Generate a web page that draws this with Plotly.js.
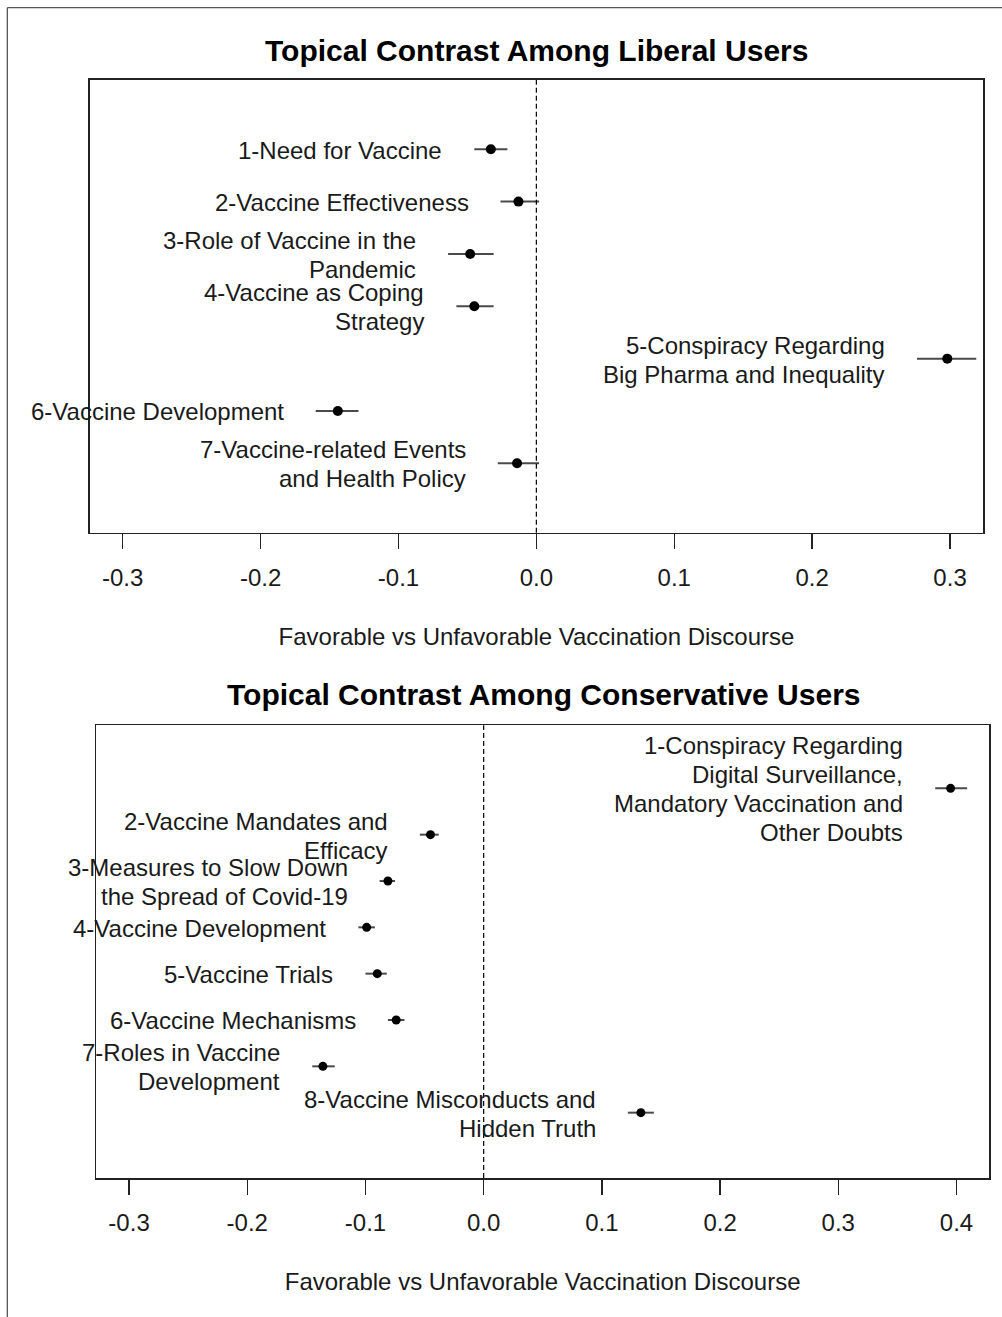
<!DOCTYPE html>
<html>
<head>
<meta charset="utf-8">
<script src="https://cdn.plot.ly/plotly-3.0.1.min.js"></script>
<style>
html,body{margin:0;padding:0;background:#fff;}
#chart{width:1002px;height:1317px;}
</style>
</head>
<body>
<div id="chart"></div>
<script>
// ---- Data: Liberal users ----
const libLabels = [
  "1-Need for Vaccine",
  "2-Vaccine Effectiveness",
  "3-Role of Vaccine in the|Pandemic",
  "4-Vaccine as Coping|Strategy",
  "5-Conspiracy Regarding|Big Pharma and Inequality",
  "6-Vaccine Development",
  "7-Vaccine-related Events|and Health Policy"
];
const libEst = [-0.033, -0.013, -0.048, -0.045, 0.298, -0.144, -0.014];
const libLo  = [-0.045, -0.026, -0.064, -0.058, 0.276, -0.160, -0.028];
const libHi  = [-0.021,  0.002, -0.031, -0.031, 0.319, -0.129,  0.002];

// ---- Data: Conservative users ----
const consLabels = [
  "1-Conspiracy Regarding|Digital Surveillance,|Mandatory Vaccination and|Other Doubts",
  "2-Vaccine Mandates and|Efficacy",
  "3-Measures to Slow Down|the Spread of Covid-19",
  "4-Vaccine Development",
  "5-Vaccine Trials",
  "6-Vaccine Mechanisms",
  "7-Roles in Vaccine|Development",
  "8-Vaccine Misconducts and|Hidden Truth"
];
const consEst = [0.395, -0.045, -0.081, -0.099, -0.090, -0.074, -0.136, 0.133];
const consLo  = [0.382, -0.054, -0.088, -0.106, -0.100, -0.081, -0.145, 0.122];
const consHi  = [0.409, -0.038, -0.075, -0.092, -0.082, -0.067, -0.126, 0.144];

// ---- Tick labels ----
const libTicks  = [-0.3, -0.2, -0.1, 0.0, 0.1, 0.2, 0.3];
const libTickText  = ["-0.3", "-0.2", "-0.1", "0.0", "0.1", "0.2", "0.3"];
const consTicks = [-0.3, -0.2, -0.1, 0.0, 0.1, 0.2, 0.3, 0.4];
const consTickText = ["-0.3", "-0.2", "-0.1", "0.0", "0.1", "0.2", "0.3", "0.4"];

const titleTop = "Topical Contrast Among Liberal Users";
const titleBottom = "Topical Contrast Among Conservative Users";
const xTitle = "Favorable vs Unfavorable Vaccination Discourse";

const FONT = "Liberation Sans, Arial, sans-serif";
const TXT = "#1a1a1a";
const LINE_H = 29;

const idx = a => a.map((_, i) => i + 1);

function trace(est, lo, hi, xa, ya, msize) {
  return {
    type: "scatter", mode: "markers",
    x: est, y: idx(est), xaxis: xa, yaxis: ya,
    marker: {color: "#000", size: msize},
    error_x: {
      type: "data", symmetric: false,
      array: hi.map((h, i) => h - est[i]),
      arrayminus: lo.map((l, i) => est[i] - l),
      color: "#4a4a4a", thickness: 2, width: 0
    },
    hoverinfo: "skip", showlegend: false, cliponaxis: false
  };
}

const data = [
  trace(libEst, libLo, libHi, "x", "y", 10),
  trace(consEst, consLo, consHi, "x2", "y2", 9)
];

const annotations = [];
function addLabels(labels, lo, xr, yr) {
  labels.forEach((t, i) => {
    const lines = t.split("|");
    const k = lines.length;
    lines.forEach((ln, j) => {
      annotations.push({
        text: ln, x: lo[i], y: i + 1, xref: xr, yref: yr,
        xanchor: "right", yanchor: "middle", align: "right",
        xshift: -30, yshift: ((k - 1) / 2 - j) * LINE_H - 1,
        showarrow: false,
        font: {family: FONT, size: 24, color: TXT}
      });
    });
  });
}
addLabels(libLabels, libLo, "x", "y");
addLabels(consLabels, consLo, "x2", "y2");

annotations.push({
  text: "<b>" + titleTop + "</b>", xref: "paper", yref: "paper",
  x: 0.5355, y: 0.9620, xanchor: "center", yanchor: "middle", showarrow: false,
  font: {family: FONT, size: 30, color: "#000"}
});
annotations.push({
  text: "<b>" + titleBottom + "</b>", xref: "paper", yref: "paper",
  x: 0.5429, y: 0.4723, xanchor: "center", yanchor: "middle", showarrow: false,
  font: {family: FONT, size: 30, color: "#000"}
});

function xaxis(domain, range, tv, tt, anchor) {
  return {
    domain: domain, range: range, anchor: anchor,
    tickmode: "array", tickvals: tv, ticktext: tt,
    ticks: "outside", ticklen: 15, tickwidth: 1.3, tickcolor: "#222",
    ticklabelstandoff: 8,
    showline: true, linecolor: "#222", linewidth: 1.5, mirror: true,
    showgrid: false, zeroline: false,
    tickfont: {family: FONT, size: 24, color: TXT},
    title: {text: xTitle, font: {family: FONT, size: 24, color: TXT}, standoff: 38}
  };
}
function yaxis(domain, range, anchor) {
  return {
    domain: domain, range: range, anchor: anchor,
    showticklabels: false, ticks: "", showgrid: false, zeroline: false,
    showline: true, linecolor: "#222", linewidth: 1.5, mirror: true
  };
}

const layout = {
  width: 1002, height: 1317,
  margin: {l: 0, r: 0, t: 0, b: 0},
  paper_bgcolor: "#fff", plot_bgcolor: "#fff",
  showlegend: false,
  xaxis: xaxis([0.08982, 0.98104], [-0.3237, 0.3239], libTicks, libTickText, "y"),
  yaxis: yaxis([0.59552, 0.93926], [8.326, -0.324], "x"),
  xaxis2: xaxis([0.09611, 0.98703], [-0.3277, 0.4275], consTicks, consTickText, "y2"),
  yaxis2: yaxis([0.10554, 0.44928], [9.41, -0.36], "x2"),
  annotations: annotations,
  shapes: [
    {type: "line", xref: "x", yref: "y domain", x0: 0, x1: 0, y0: 0, y1: 1,
     line: {color: "#000", width: 1.2, dash: "5px,3px"}},
    {type: "line", xref: "x2", yref: "y2 domain", x0: 0, x1: 0, y0: 0, y1: 1,
     line: {color: "#000", width: 1.2, dash: "5px,3px"}},
    {type: "line", xref: "paper", yref: "paper", x0: 0.0073, x1: 0.0073, y0: 0, y1: 0.9942,
     line: {color: "#555", width: 1.3}},
    {type: "line", xref: "paper", yref: "paper", x0: 0.0073, x1: 1, y0: 0.9942, y1: 0.9942,
     line: {color: "#555", width: 1.3}}
  ]
};

Plotly.newPlot("chart", data, layout, {displayModeBar: false, staticPlot: true});
</script>
</body>
</html>
